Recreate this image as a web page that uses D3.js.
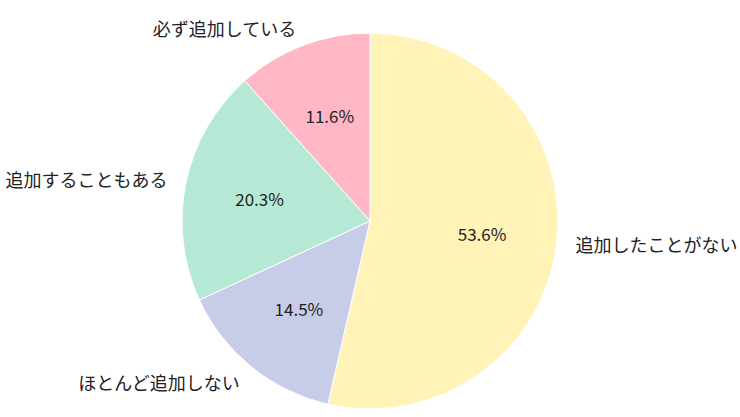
<!DOCTYPE html>
<html><head><meta charset="utf-8">
<script src="https://cdn.jsdelivr.net/npm/d3@7"></script>
<style>body{margin:0;background:#fff}svg{display:block}</style>
</head><body>
<svg id="c" width="740" height="417"></svg>
<script>
const categories = ["追加したことがない","ほとんど追加しない","追加することもある","必ず追加している"];
const values = [53.6, 14.5, 20.3, 11.6];
const colors = ["#FFF3B8","#C7CDE9","#B5E9D5","#FFB7C5"];

const W=740,H=417,cx=370,cy=221,R=188;
const svg=d3.select("#c");
const g=svg.append("g").attr("transform",`translate(${cx},${cy})`);
const pie=d3.pie().sort(null).value(d=>d)(values);
const arc=d3.arc().innerRadius(0).outerRadius(R);
g.selectAll("path").data(pie).join("path")
 .attr("d",arc).attr("fill",(d,i)=>colors[i])
 .attr("stroke","#fff").attr("stroke-width",1);
const font="'Noto Sans CJK JP','Noto Sans',sans-serif";
const mid=d=>(d.startAngle+d.endAngle)/2;
g.selectAll("text.lab").data(pie).join("text").attr("class","lab")
 .attr("x",d=>1.1*R*Math.sin(mid(d)))
 .attr("y",d=>-1.1*R*Math.cos(mid(d)))
 .attr("text-anchor",d=>Math.sin(mid(d))>=0?"start":"end")
 .attr("dominant-baseline","central")
 .attr("font-family",font).attr("font-size",18).attr("fill","#222")
 .text((d,i)=>categories[i]);
g.selectAll("text.pct").data(pie).join("text").attr("class","pct")
 .attr("x",d=>0.6*R*Math.sin(mid(d)))
 .attr("y",d=>-0.6*R*Math.cos(mid(d)))
 .attr("text-anchor","middle")
 .attr("dominant-baseline","central")
 .attr("font-family",font).attr("font-size",17).attr("fill","#222")
 .text(d=>d.data.toFixed(1)+"%");
</script>
</body></html>
